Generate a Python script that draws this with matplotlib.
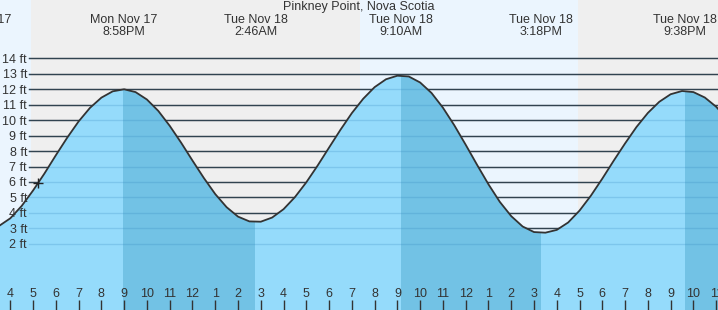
"""Pinkney Point, Nova Scotia 潮汐图(Mon Nov 17 下午 ~ Tue Nov 18 夜)。"""

import matplotlib
matplotlib.use("Agg")
import matplotlib.pyplot as plt
import matplotlib.transforms as mtransforms
import numpy as np

plt.rcParams["font.family"] = ["Liberation Sans", "DejaVu Sans"]

TITLE = "Pinkney Point, Nova Scotia"

# 时间一律用 "距 Mon Nov 17 00:00 的小时数"
TIDE_HOURS = np.arange(15.5, 48.0, 0.5)          # 每半小时读一个点
TIDE_FT = [
    3.15, 3.65, 4.45, 5.45, 6.55, 7.73, 8.87, 9.92, 10.80, 11.46, 11.87, 12.00,
    11.82, 11.34, 10.60, 9.64, 8.55, 7.39, 6.26, 5.22, 4.37, 3.76, 3.45, 3.43,
    3.70, 4.24, 5.02, 5.98, 7.07, 8.23, 9.38, 10.46, 11.39, 12.14, 12.65, 12.88,
    12.83, 12.44, 11.76, 10.81, 9.67, 8.41, 7.11, 5.85, 4.71, 3.79, 3.12, 2.76,
    2.72, 2.90, 3.38, 4.15, 5.12, 6.22, 7.38, 8.50, 9.56, 10.47, 11.19, 11.68,
    11.89, 11.82, 11.47, 10.87, 10.05,
]

# 高低潮时刻 + 标注
EXTREME_HOURS = [14.55, 20.967, 26.767, 33.167, 39.3, 45.633]
EXTREME_LABELS = [
    "Mon Nov 17\n2:33PM",
    "Mon Nov 17\n8:58PM",
    "Tue Nov 18\n2:46AM",
    "Tue Nov 18\n9:10AM",
    "Tue Nov 18\n3:18PM",
    "Tue Nov 18\n9:38PM",
]
# 落潮段(高潮 -> 下一个低潮)用深色
HIGH_HOURS = [20.967, 33.167, 45.633]
NEXT_LOW_HOURS = [26.767, 39.3, 51.6]

# 白天(日出 -> 日落)
SUNRISE_HOURS = [7.3, 31.36]
SUNSET_HOURS = [16.91, 40.93]

NOW_HOUR, NOW_FT = 17.2, 5.93

Y_TICKS = list(range(2, 15))
X_TICKS = list(range(16, 48))
MIDNIGHT = [24]

NIGHT_BG = "#efefef"
DAY_BG = "#ebf5fe"
LIGHT = "#95dbfb"
DARK = "#72c2e5"
INK = "#333333"


def main() -> None:
    fig = plt.figure(figsize=(7.18, 3.10), dpi=100)
    ax = fig.add_axes([0, 0, 1, 1])
    ax.set_xlim(15.548, 47.08)
    ax.set_ylim(-2.285, 17.78)
    ax.set_facecolor(NIGHT_BG)
    for s in ax.spines.values():
        s.set_visible(False)

    # --- 昼夜背景 ---
    for rise, sset in zip(SUNRISE_HOURS, SUNSET_HOURS):
        ax.axvspan(rise, sset, color=DAY_BG, lw=0, zorder=0)

    # --- 水平刻度线 ---
    for y in Y_TICKS:
        ax.axhline(y, xmin=0.041, color=INK, lw=1, zorder=1)

    # --- 潮位填充 ---
    poly = ax.fill_between(TIDE_HOURS, TIDE_FT, -5, color=LIGHT, lw=0, zorder=2)
    clip = poly.get_paths()[0]
    for hi, lo in zip(HIGH_HOURS, NEXT_LOW_HOURS):
        span = ax.axvspan(hi, lo, color=DARK, lw=0, zorder=2.1)
        span.set_clip_path(clip, ax.transData)

    # 水里的刻度线颜色淡一些
    for y in Y_TICKS:
        ax.axhline(y, xmin=0.041, color="#2a7fb8", alpha=0.22, lw=1, zorder=2.5)

    ax.plot(TIDE_HOURS, TIDE_FT, color=INK, lw=1.3, zorder=3)
    ax.plot(NOW_HOUR, NOW_FT, marker="+", color="#222222", ms=7, mew=1, zorder=4)

    # --- 坐标轴(画在填充之上)---
    ax.set_xticks(X_TICKS, labels=[str((h - 1) % 12 + 1) for h in X_TICKS])
    ax.set_xticks(MIDNIGHT, minor=True)
    ax.tick_params(axis="x", which="major", direction="in", length=7, width=1,
                   color=INK, pad=-15.5, labelsize=9, labelcolor=INK)
    ax.tick_params(axis="x", which="minor", direction="in", length=7, width=3,
                   color=INK)
    ax.set_yticks(Y_TICKS, labels=[f"{y} ft" for y in Y_TICKS])
    ax.tick_params(axis="y", length=0, pad=-19.5, labelsize=9, labelcolor=INK)
    ax.xaxis.set_zorder(10)
    ax.yaxis.set_zorder(10)

    # --- 文字 ---
    trans = mtransforms.blended_transform_factory(ax.transData, ax.transAxes)
    for h, txt in zip(EXTREME_HOURS, EXTREME_LABELS):
        ax.text(h, 1 - 25.6 / 310, txt, transform=trans, ha="center", va="center",
                fontsize=9, color=INK, linespacing=1.0, zorder=11)
    fig.text(0.5, 1 - 7 / 310, TITLE, ha="center", va="center", fontsize=9,
             color=INK)

    fig.savefig("out.png", dpi=100)
    plt.close(fig)


if __name__ == "__main__":
    main()
